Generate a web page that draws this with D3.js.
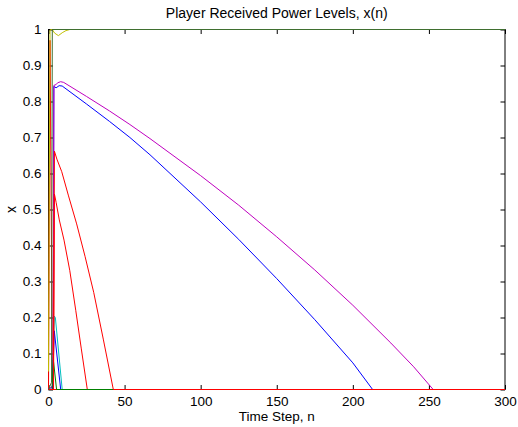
<!DOCTYPE html>
<html>
<head>
<meta charset="utf-8">
<script src="https://cdn.jsdelivr.net/npm/d3@7"></script>
<style>
  body { margin: 0; background: #fff; }
  text { font-family: "Liberation Sans", Arial, Helvetica, sans-serif; fill: #000; }
</style>
</head>
<body>
<svg id="chart" width="518" height="427"></svg>
<script>
// steps (n) and received power levels x(n)
var blueN   = [0, 3, 3.5, 5, 7, 9, 25, 40, 53.5, 66.7, 100, 125, 150, 175, 200, 213, 300];
var blueX   = [0, 0.01, 0.842, 0.838, 0.844, 0.843, 0.793, 0.745, 0.70, 0.652, 0.521, 0.417, 0.308, 0.194, 0.074, 0, 0];

var greenN  = [0, 2, 2.5, 300];
var greenX  = [0, 0.02, 1, 1];

var spikeN  = [0, 1, 2.6, 300];
var spikeX  = [0, 0.97, 0, 0];

var cyanN   = [0, 2.5, 3.8, 4.5, 9, 300];
var cyanX   = [0, 0, 0.204, 0.2, 0, 0];

var magN    = [0, 3, 3.6, 5, 6, 8, 10, 25, 40, 53.5, 66.7, 100, 125, 150, 175, 200, 225, 240, 252.8, 300];
var magX    = [0, 0.01, 0.845, 0.847, 0.852, 0.855, 0.853, 0.814, 0.774, 0.736, 0.697, 0.594, 0.512, 0.424, 0.332, 0.234, 0.129, 0.063, 0, 0];

var yelN    = [0, 1, 2.5, 4, 6.5, 9, 11.5, 14, 300];
var yelX    = [0.05, 0.999, 1, 0.99, 0.983, 0.991, 0.997, 1, 1];

var blue2N  = [0, 2.6, 3.8, 8, 300];
var blue2X  = [0, 0, 0.163, 0, 0];

var red2N   = [0, 3.3, 3.9, 5, 7.1, 10.2, 14, 17.9, 21.5, 25.5, 300];
var red2X   = [0, 0, 0.543, 0.52, 0.471, 0.415, 0.33, 0.22, 0.115, 0, 0];

var green2N = [0, 2.3, 3.2, 5.3, 300];
var green2X = [0, 0, 0.082, 0, 0];

var red1N   = [0, 3.2, 3.9, 5.5, 8.7, 13, 18.5, 24, 29.7, 36, 42.6, 300];
var red1X   = [0, 0, 0.662, 0.64, 0.605, 0.54, 0.46, 0.37, 0.27, 0.14, 0, 0];

var xTicks = [0, 50, 100, 150, 200, 250, 300];
var yTicks = [0, 0.1, 0.2, 0.3, 0.4, 0.5, 0.6, 0.7, 0.8, 0.9, 1];

// matlab-ish line colours, drawing order matters (last on top)
var series = [
  {n: blueN, x: blueX, color: "#0000ff"},
  {n: spikeN, x: spikeX, color: "#ff0000"},
  {n: cyanN, x: cyanX, color: "#00bfbf"},
  {n: magN, x: magX, color: "#bf00bf"},
  {n: blue2N, x: blue2X, color: "#0000ff"},
  {n: red2N, x: red2X, color: "#ff0000"},
  {n: green2N, x: green2X, color: "#008000"},
  {n: red1N, x: red1X, color: "#ff0000"},
  {n: yelN, x: yelX, color: "#bfbf00"},
  {n: greenN, x: greenX, color: "#3f6f2f"}
];

var svg = d3.select("#chart");
var plotL = 48.5, plotR = 505, plotT = 29.5, plotB = 389.5;

var xscale = d3.scaleLinear().domain([0, 300]).range([plotL, plotR]);
var yscale = d3.scaleLinear().domain([0, 1]).range([plotB, plotT]);

var tickLen = 4.5;

//x axis (ticks inside)
svg.append("g")
    .attr("transform", "translate(0," + plotB + ")")
    .call(d3.axisBottom(xscale).tickValues(xTicks).tickSizeInner(-tickLen).tickSizeOuter(0).tickPadding(7)
            .tickFormat(d3.format("d")));
//top ticks
svg.append("g")
    .attr("transform", "translate(0," + plotT + ")")
    .call(d3.axisTop(xscale).tickValues(xTicks).tickSizeInner(-tickLen).tickSizeOuter(0).tickFormat(""));

//y axis
svg.append("g")
    .attr("transform", "translate(" + plotL + ",0)")
    .call(d3.axisLeft(yscale).tickValues(yTicks).tickSizeInner(-tickLen).tickSizeOuter(0).tickPadding(7)
            .tickFormat(function(d) { return d === 0 || d === 1 ? d3.format("d")(d) : d3.format(".1f")(d); }));
//right ticks
svg.append("g")
    .attr("transform", "translate(" + plotR + ",0)")
    .call(d3.axisRight(yscale).tickValues(yTicks).tickSizeInner(-tickLen).tickSizeOuter(0).tickFormat(""));

svg.selectAll(".domain").remove();
svg.selectAll(".tick line").attr("stroke", "#000").attr("stroke-width", 1);
svg.selectAll(".tick text").style("font-size", "13.5px")
    .style("font-family", "'Liberation Sans', Arial, sans-serif").attr("fill", "#000");

// box
svg.append("rect")
    .attr("x", plotL).attr("y", plotT)
    .attr("width", plotR - plotL).attr("height", plotB - plotT)
    .attr("fill", "none").attr("stroke", "#000").attr("stroke-width", 1);

var lineFunction = d3.line()
    .x(function(d) { return xscale(d[0]); })
    .y(function(d) { return yscale(d[1]); });

svg.append("defs").append("clipPath").attr("id", "clip")
  .append("rect").attr("x", plotL - 1).attr("y", plotT - 1)
    .attr("width", plotR - plotL + 2).attr("height", plotB - plotT + 2);

var lines = svg.append("g").attr("clip-path", "url(#clip)");
series.forEach(function(s) {
    var pts = s.n.map(function(v, i) { return [v, s.x[i]]; });
    lines.append("path")
        .attr("d", lineFunction(pts))
        .attr("stroke", s.color)
        .attr("stroke-width", 1)
        .attr("fill", "none");
});

// title + labels
svg.append("text")
    .attr("x", (plotL + plotR) / 2).attr("y", 18)
    .attr("text-anchor", "middle")
    .style("font-size", "14px")
    .text("Player Received Power Levels, x(n)");

svg.append("text")
    .attr("x", (plotL + plotR) / 2).attr("y", 421)
    .attr("text-anchor", "middle")
    .style("font-size", "13.5px")
    .text("Time Step, n");

svg.append("text")
    .attr("transform", "translate(16," + ((plotT + plotB) / 2) + ") rotate(-90)")
    .attr("text-anchor", "middle")
    .style("font-size", "14px")
    .text("x");
</script>
</body>
</html>
